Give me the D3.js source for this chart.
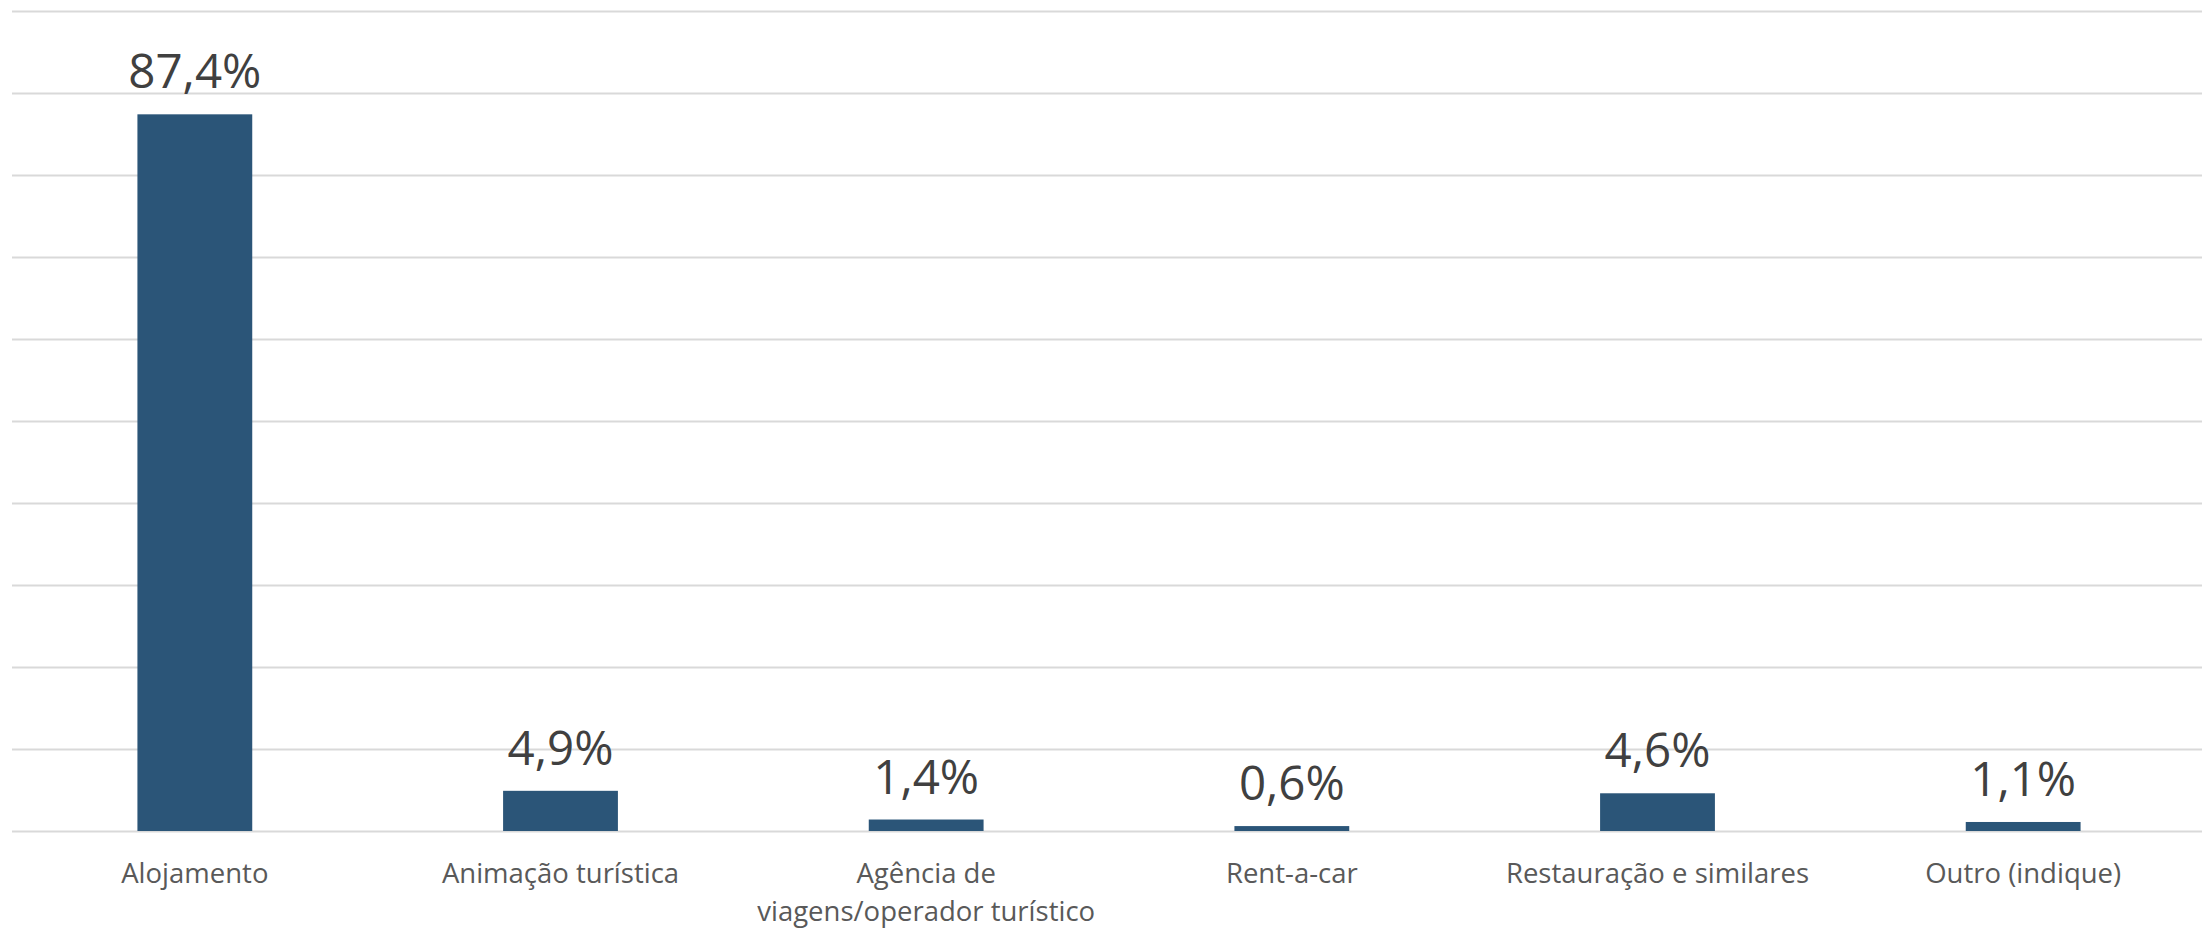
<!DOCTYPE html>
<html>
<head>
<meta charset="utf-8">
<script src="https://cdn.jsdelivr.net/npm/d3@7"></script>
<style>
  html, body { margin: 0; padding: 0; background: #fff; }
  svg { display: block; }
  text { font-family: "Open Sans", sans-serif; }
</style>
</head>
<body>
<div id="chart"></div>
<script>
const categories = [
    "Alojamento",
    "Animação turística",
    "Agência de\nviagens/operador turístico",
    "Rent-a-car",
    "Restauração e similares",
    "Outro (indique)"
];
const values = [87.4, 4.9, 1.4, 0.6, 4.6, 1.1];
const gridTicks = [0, 10, 20, 30, 40, 50, 60, 70, 80, 90, 100];

const width = 2202;
const height = 929;
const margin = { top: 11, right: -4, bottom: 98, left: 12 };
const innerW = width - margin.left - margin.right;
const innerH = height - margin.top - margin.bottom;

const svg = d3.select("#chart").append("svg")
    .attr("width", width)
    .attr("height", height);

const g = svg.append("g")
    .attr("transform", `translate(${margin.left},${margin.top})`);

const x = d3.scaleBand()
    .domain(categories)
    .range([0, innerW])
    .paddingInner(0.686)
    .paddingOuter(0.343);

const y = d3.scaleLinear()
    .domain([0, 100])
    .range([innerH, 0]);

// gridlines
const grid = g.append("g")
    .call(d3.axisLeft(y).tickValues(gridTicks).tickSize(-innerW).tickFormat(""));
grid.select(".domain").remove();
grid.selectAll(".tick line")
    .attr("stroke", "#d9d9d9")
    .attr("stroke-width", 2);

// bars
g.selectAll("rect.bar")
    .data(values)
    .enter()
    .append("rect")
    .attr("class", "bar")
    .attr("x", (d, i) => x(categories[i]))
    .attr("y", d => y(d))
    .attr("width", x.bandwidth())
    .attr("height", d => innerH - y(d))
    .attr("fill", "#2b5578");

// value labels
g.selectAll("text.value")
    .data(values)
    .enter()
    .append("text")
    .attr("class", "value")
    .attr("x", (d, i) => x(categories[i]) + x.bandwidth() / 2)
    .attr("y", d => y(d) - 26)
    .attr("text-anchor", "middle")
    .attr("font-size", 47.5)
    .attr("fill", "#404040")
    .text(d => d.toFixed(1).replace(".", ",") + "%");

// category axis
const xAxis = g.append("g")
    .attr("transform", `translate(0,${innerH})`)
    .call(d3.axisBottom(x).tickSize(0).tickFormat(""));
xAxis.select(".domain").remove();

xAxis.selectAll(".tick").each(function(d) {
    const t = d3.select(this).append("text")
        .attr("text-anchor", "middle")
        .attr("font-size", 27.5)
        .attr("fill", "#595959");
    d.split("\n").forEach((line, i) => {
        t.append("tspan")
            .attr("x", 0)
            .attr("y", 52 + i * 38)
            .text(line);
    });
});
</script>
</body>
</html>
